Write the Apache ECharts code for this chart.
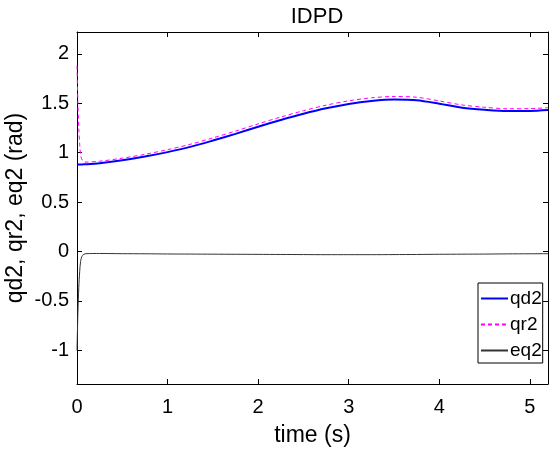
<!DOCTYPE html>
<html>
<head>
<meta charset="utf-8">
<script src="https://cdn.jsdelivr.net/npm/echarts@6/dist/echarts.min.js"></script>
<style>
html,body{margin:0;padding:0;background:#fff;}
#chart{width:549px;height:454px;}
</style>
</head>
<body>
<div id="chart"></div>
<script>
var titleText = 'IDPD';
var xLabel = 'time (s)';
var yLabel = 'qd2, qr2, eq2 (rad)';
var xTicks = [0, 1, 2, 3, 4, 5];
var yTicks = [-1, -0.5, 0, 0.5, 1, 1.5, 2];
var time = [0, 0.01, 0.02, 0.03, 0.04, 0.06, 0.1, 0.25, 0.5, 0.75, 1.0, 1.25, 1.5, 1.75, 2.0, 2.25, 2.5, 2.75, 3.0, 3.25, 3.5, 3.75, 4.0, 4.25, 4.5, 4.75, 5.0, 5.2];
var qd2 = [0.880, 0.880, 0.880, 0.880, 0.880, 0.881, 0.882, 0.893, 0.922, 0.960, 1.005, 1.058, 1.122, 1.190, 1.262, 1.330, 1.393, 1.448, 1.492, 1.522, 1.537, 1.530, 1.495, 1.455, 1.433, 1.420, 1.422, 1.432];
var qr2 = [1.880, 1.500, 1.240, 1.080, 0.980, 0.921, 0.904, 0.913, 0.944, 0.983, 1.030, 1.084, 1.149, 1.218, 1.291, 1.360, 1.424, 1.480, 1.524, 1.554, 1.568, 1.560, 1.523, 1.482, 1.459, 1.444, 1.445, 1.454];
var eq2 = [-1.000, -0.620, -0.360, -0.200, -0.100, -0.040, -0.022, -0.020, -0.022, -0.023, -0.025, -0.026, -0.027, -0.028, -0.029, -0.030, -0.031, -0.032, -0.032, -0.032, -0.031, -0.030, -0.028, -0.027, -0.026, -0.024, -0.023, -0.022];

function pairs(xs, ys) { return xs.map(function (x, i) { return [x, ys[i]]; }); }

var FONT = 'Liberation Sans, Arial, Helvetica, sans-serif';
var chart = echarts.init(document.getElementById('chart'), null, {renderer: 'canvas'});
var axisLine = {show: true, onZero: false, lineStyle: {color: '#000', width: 1}};
var tickStyle = {show: true, inside: true, length: 5, lineStyle: {color: '#000', width: 1}};
chart.setOption({
  animation: false,
  backgroundColor: '#fff',
  title: {text: titleText, left: 312, top: 1, textAlign: 'center',
    textStyle: {fontFamily: FONT, fontSize: 22, fontWeight: 'normal', color: '#000'}},
  grid: {left: 77, right: 1, top: 32, bottom: 70, containLabel: false, outerBoundsMode: 'none'},
  legend: {
    left: 478, top: 283, orient: 'vertical',
    backgroundColor: '#fff', borderColor: '#000', borderWidth: 1,
    padding: [6, 1, 3, 2], itemGap: 7, itemWidth: 27, itemHeight: 14,
    itemStyle: {opacity: 0},
    textStyle: {fontFamily: FONT, fontSize: 19, color: '#000', lineHeight: 18, padding: [0, 0, 0, -3]},
    data: ['qd2', 'qr2', 'eq2']
  },
  xAxis: [{
    type: 'value', min: 0, max: 5.2, position: 'bottom',
    name: xLabel, nameLocation: 'middle', nameGap: 40, nameMoveOverlap: false,
    nameTextStyle: {fontFamily: FONT, fontSize: 23, color: '#000'},
    axisLine: axisLine, axisTick: Object.assign({customValues: xTicks}, tickStyle),
    axisLabel: {customValues: xTicks, fontFamily: FONT, fontSize: 20, color: '#000', margin: 13},
    splitLine: {show: false}
  }, {
    type: 'value', min: 0, max: 5.2, position: 'top',
    axisLine: axisLine, axisTick: Object.assign({customValues: xTicks}, tickStyle),
    axisLabel: {show: false}, splitLine: {show: false}
  }],
  yAxis: [{
    type: 'value', min: -1.34, max: 2.22, position: 'left',
    name: yLabel, nameLocation: 'middle', nameGap: 50, nameMoveOverlap: false,
    nameTextStyle: {fontFamily: FONT, fontSize: 23, color: '#000'},
    axisLine: axisLine, axisTick: Object.assign({customValues: yTicks}, tickStyle),
    axisLabel: {customValues: yTicks, fontFamily: FONT, fontSize: 20, color: '#000', margin: 8,
      formatter: function (v) { return String(v); }},
    splitLine: {show: false}
  }, {
    type: 'value', min: -1.34, max: 2.22, position: 'right',
    axisLine: axisLine, axisTick: Object.assign({customValues: yTicks}, tickStyle),
    axisLabel: {show: false}, splitLine: {show: false}
  }],
  series: [{
    name: 'qd2', type: 'line', data: pairs(time, qd2), showSymbol: false, symbol: 'none',
    smooth: 0.3, lineStyle: {color: '#0000ff', width: 2}, itemStyle: {color: '#0000ff'}, z: 3
  }, {
    name: 'qr2', type: 'line', data: pairs(time, qr2), showSymbol: false, symbol: 'none',
    smooth: 0.3, lineStyle: {color: '#ff00ff', width: 1, type: [4, 3]}, itemStyle: {color: '#ff00ff'}, z: 4
  }, {
    name: 'eq2', type: 'line', data: pairs(time, eq2), showSymbol: false, symbol: 'none',
    smooth: 0.3, lineStyle: {color: '#333333', width: 1}, itemStyle: {color: '#333333'}, z: 2
  }]
});
</script>
</body>
</html>
